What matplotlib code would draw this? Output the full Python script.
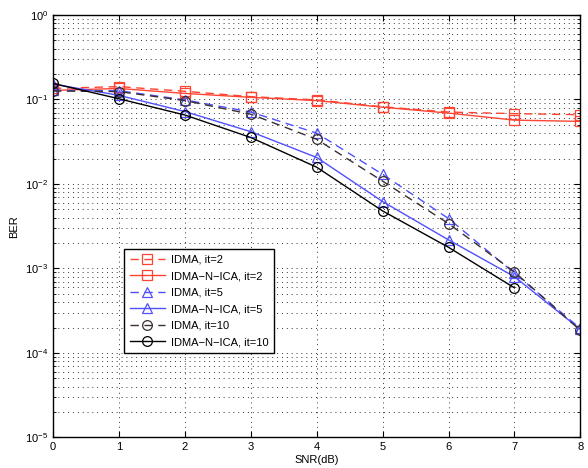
import matplotlib
matplotlib.use("Agg")
import matplotlib.pyplot as plt
from matplotlib.ticker import LogLocator, NullFormatter

plt.rcParams['font.family'] = ['Liberation Sans', 'DejaVu Sans']
plt.rcParams['mathtext.fontset'] = 'custom'
plt.rcParams['mathtext.rm'] = 'Liberation Sans'

snr = [0, 1, 2, 3, 4, 5, 6, 7, 8]
idma_it2 = [0.135, 0.142, 0.125, 0.108, 0.099, 0.082, 0.071, 0.068, 0.066]
nica_it2 = [0.128, 0.135, 0.118, 0.106, 0.097, 0.081, 0.069, 0.057, 0.055]
idma_it5 = [0.128, 0.127, 0.099, 0.071, 0.040, 0.0130, 0.0039, 0.00088, 0.000195]
nica_it5 = [0.152, 0.112, 0.072, 0.0416, 0.0206, 0.0062, 0.00218, 0.00080, 0.000190]
idma_it10 = [0.126, 0.124, 0.097, 0.067, 0.0338, 0.0108, 0.0034, 0.00091, 0.000185]
nica_it10 = [0.155, 0.102, 0.0655, 0.0355, 0.0158, 0.0048, 0.00178, 0.00059]
snr_nica10 = [0, 1, 2, 3, 4, 5, 6, 7]

labels = ['IDMA, it=2', 'IDMA\u2212N\u2212ICA, it=2', 'IDMA, it=5',
          'IDMA\u2212N\u2212ICA, it=5', 'IDMA, it=10', 'IDMA\u2212N\u2212ICA, it=10']

red = '#ff4433'
blue = '#5050ff'
dark = '#3a2e2e'

fig = plt.figure(figsize=(5.88, 4.68), dpi=100)
ax = fig.add_axes([0.0901, 0.0652, 0.8969, 0.9028])

kw = dict(markerfacecolor='none', linewidth=1.0, markersize=7, markeredgewidth=0.9)
dash = (0, (6, 4))
ax.semilogy(snr, idma_it2, marker='s', linestyle=dash, color=red, label=labels[0], **kw)
ax.semilogy(snr, nica_it2, marker='s', linestyle='-', color=red, label=labels[1], **kw)
ax.semilogy(snr, idma_it5, marker='^', linestyle=dash, color=blue, label=labels[2], **kw)
ax.semilogy(snr, nica_it5, marker='^', linestyle='-', color=blue, label=labels[3], **kw)
ax.semilogy(snr, idma_it10, marker='o', linestyle=dash, color=dark, label=labels[4], **kw)
ax.semilogy(snr_nica10, nica_it10, marker='o', linestyle='-', color='black', label=labels[5], **kw)

ax.set_xlim(0, 8)
ax.set_ylim(1e-5, 1)
ax.set_xticks(snr)
ax.yaxis.set_major_locator(LogLocator(base=10, numticks=10))
ax.yaxis.set_minor_locator(LogLocator(base=10, subs=range(2, 10), numticks=20))
ax.yaxis.set_minor_formatter(NullFormatter())
ax.tick_params(which='both', direction='in', top=True, right=True, labelsize=8)
ax.tick_params(which='major', length=4)
ax.tick_params(which='minor', length=2)
grid_ls = (0, (1, 4))
ax.grid(True, which='major', linestyle=grid_ls, color='#333333', linewidth=0.7)
ax.grid(True, which='minor', axis='y', linestyle=grid_ls, color='#333333', linewidth=0.7)
ax.set_axisbelow(True)
for s in ax.spines.values():
    s.set_linewidth(1.0)

ax.set_xlabel('SNR(dB)', fontsize=8, labelpad=2)
ax.set_ylabel('BER', fontsize=8, labelpad=4)

leg = ax.legend(loc='lower left', bbox_to_anchor=(0.1346, 0.2007), fontsize=8,
                fancybox=False, framealpha=1, edgecolor='black', borderaxespad=0,
                handlelength=3.2, borderpad=0.5, labelspacing=0.58, handletextpad=0.5)
leg.get_frame().set_linewidth(1.0)

fig.savefig('out.png', dpi=100)
